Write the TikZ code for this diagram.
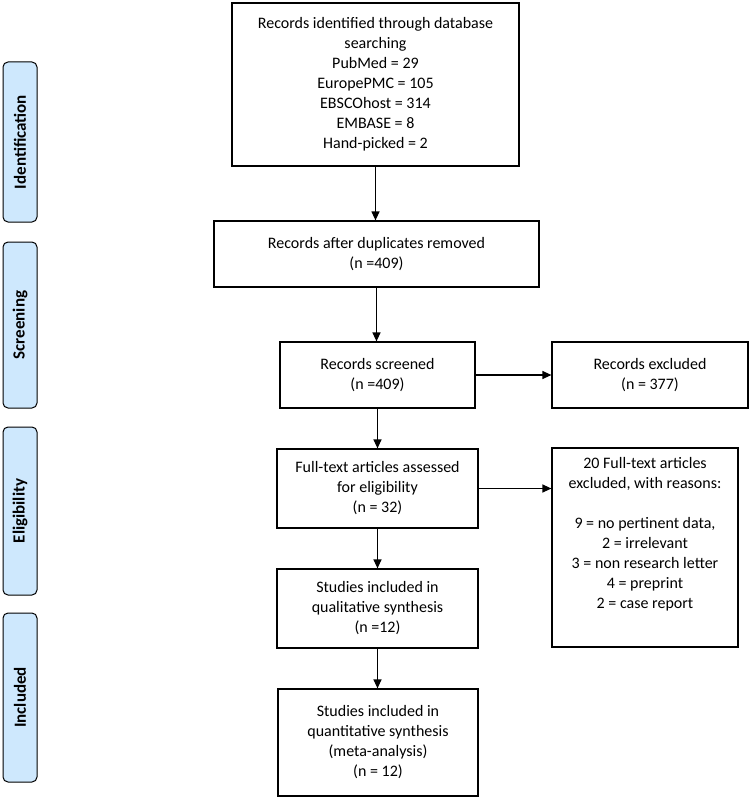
\documentclass[tikz,border=0pt]{standalone}
\usepackage{fontspec}
\setmainfont{Carlito}
\usetikzlibrary{arrows.meta}
\definecolor{phaseblue}{RGB}{206,232,253}
\begin{document}
\begin{tikzpicture}[x=1pt,y=-1pt,
  box/.style={draw, line width=1.2pt, align=center, inner sep=0pt, font=\fontsize{16}{20}\selectfont},
  phase/.style={draw, line width=1pt, rounded corners=5pt, fill=phaseblue, inner sep=0pt, rotate=90, minimum height=34pt, font=\fontsize{17}{20}\selectfont\bfseries},
  arr/.style={-{Triangle[length=9pt,width=8pt]}, line width=1.2pt}]
\useasboundingbox (0,0) rectangle (755,800);
% phase labels
\node[phase, minimum width=160pt] (pid) at (20,142) {Identification};
\node[phase, minimum width=166pt] (psc) at (20,325) {Screening};
\node[phase, minimum width=168pt] (pel) at (20,511) {Eligibility};
\node[phase, minimum width=169pt] (pin) at (20,697.5) {Included};
% boxes
\node[box, minimum width=287pt, minimum height=163pt] (top) at (375.5,84.5) {Records identified through database\\searching\\PubMed = 29\\EuropePMC = 105\\EBSCOhost = 314\\EMBASE = 8\\Hand-picked = 2};
\node[box, minimum width=325pt, minimum height=66pt] (dup) at (376.5,254) {Records after duplicates removed\\(n =409)};
\node[box, minimum width=195pt, minimum height=66pt] (scr) at (377.5,375) {Records screened\\(n =409)};
\node[box, minimum width=196pt, minimum height=66pt] (exc) at (650,375) {Records excluded\\(n = 377)};
\node[box, minimum width=201pt, minimum height=79pt] (full) at (377.5,488.5) {Full-text articles assessed\\for eligibility\\(n = 32)};
\node[box, minimum width=186pt, minimum height=199pt] (ex20) at (645,547.5) {20 Full-text articles\\excluded, with reasons:\\[20pt]9 = no pertinent data,\\2 = irrelevant\\3 = non research letter\\4 = preprint\\2 = case report\\[10pt]};
\node[box, minimum width=201pt, minimum height=79pt] (qual) at (377.5,608.5) {Studies included in\\qualitative synthesis\\(n =12)};
\node[box, minimum width=200pt, minimum height=107pt] (quant) at (378,742.5) {Studies included in\\quantitative synthesis\\(meta-analysis)\\(n = 12)};
% arrows
\draw[arr] (top.south) -- (top.south |- dup.north);
\draw[arr] (dup.south) -- (dup.south |- scr.north);
\draw[arr] (scr.east) -- (exc.west);
\draw[arr] (scr.south) -- (scr.south |- full.north);
\draw[arr] (full.east) -- (full.east -| ex20.west);
\draw[arr] (full.south) -- (full.south |- qual.north);
\draw[arr] (qual.south) -- (qual.south |- quant.north);
\end{tikzpicture}
\end{document}
